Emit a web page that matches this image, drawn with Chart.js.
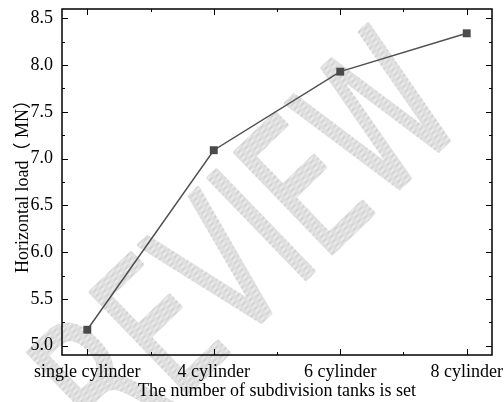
<!DOCTYPE html>
<html>
<head>
<meta charset="utf-8">
<script src="https://cdn.jsdelivr.net/npm/chart.js@4"></script>
<style>
  html, body { margin: 0; padding: 0; background: #fff; }
</style>
</head>
<body>
<canvas id="chart" width="504" height="402"></canvas>
<script>
// Horizontal load for each tank subdivision setup
const tankLabels = ["single cylinder", "4 cylinder", "6 cylinder", "8 cylinder"];
const horizontalLoad = [5.17, 7.09, 7.93, 8.34];
const yTickValues = [5.0, 5.5, 6.0, 6.5, 7.0, 7.5, 8.0, 8.5];

const serif = "'Liberation Serif', 'Times New Roman', 'Noto Sans CJK SC', serif";

// grey stamp behind the plot
const watermark = {
    id: "watermark",
    beforeDraw(chart) {
        let ctx = chart.ctx;
        let tile = document.createElement("canvas");
        tile.width = 2;
        tile.height = 2;
        let t = tile.getContext("2d");
        t.fillStyle = "#f2f2f2";
        t.fillRect(0, 0, 2, 2);
        t.fillStyle = "#cccccc";
        t.fillRect(0, 0, 1, 1);
        t.fillRect(1, 1, 1, 1);
        let pat = ctx.createPattern(tile, "repeat");

        ctx.save();
        ctx.translate(116, 462);
        ctx.rotate(-44 * Math.PI / 180);
        ctx.scale(0.65, 1);
        ctx.font = "192px 'DejaVu Sans'";
        ctx.textAlign = "left";
        ctx.textBaseline = "alphabetic";
        ctx.fillStyle = pat;
        ctx.strokeStyle = pat;
        ctx.lineWidth = 4;
        ctx.lineJoin = "round";
        ctx.fillText("REVIEW", 0, 0);
        ctx.strokeText("REVIEW", 0, 0);
        ctx.restore();
    }
};

// box frame with inward major/minor ticks on all four sides
const frameTicks = {
    id: "frameTicks",
    afterDatasetsDraw(chart) {
        let ctx = chart.ctx;
        let area = chart.chartArea;
        let xs = chart.scales.x;
        let ys = chart.scales.y;

        ctx.save();
        ctx.strokeStyle = "#000";
        ctx.lineWidth = 1.5;
        ctx.strokeRect(area.left, area.top, area.right - area.left, area.bottom - area.top);

        ctx.lineWidth = 1;
        ctx.beginPath();
        for (let i = 0; i < tankLabels.length; i++) {
            let px = Math.round(xs.getPixelForValue(i)) + 0.5;
            ctx.moveTo(px, area.bottom); ctx.lineTo(px, area.bottom - 6);
            ctx.moveTo(px, area.top); ctx.lineTo(px, area.top + 6);
            if (i < tankLabels.length - 1) {
                let mx = Math.round(xs.getPixelForValue(i + 0.5)) + 0.5;
                ctx.moveTo(mx, area.bottom); ctx.lineTo(mx, area.bottom - 3);
                ctx.moveTo(mx, area.top); ctx.lineTo(mx, area.top + 3);
            }
        }
        for (let i = 0; i < yTickValues.length; i++) {
            let py = Math.round(ys.getPixelForValue(yTickValues[i])) + 0.5;
            ctx.moveTo(area.left, py); ctx.lineTo(area.left + 6, py);
            ctx.moveTo(area.right, py); ctx.lineTo(area.right - 6, py);
            if (i < yTickValues.length - 1) {
                let my = Math.round(ys.getPixelForValue((yTickValues[i] + yTickValues[i + 1]) / 2)) + 0.5;
                ctx.moveTo(area.left, my); ctx.lineTo(area.left + 3, my);
                ctx.moveTo(area.right, my); ctx.lineTo(area.right - 3, my);
            }
        }
        ctx.stroke();
        ctx.restore();
    }
};

let ctx = document.getElementById("chart").getContext("2d");

new Chart(ctx, {
    type: "line",
    data: {
        datasets: [{
            data: horizontalLoad.map((v, i) => ({ x: i, y: v })),
            borderColor: "#505050",
            borderWidth: 1.5,
            pointStyle: "rect",
            pointRadius: 5.6,
            pointBorderWidth: 0,
            pointBackgroundColor: "#4a4a4a",
            fill: false,
            tension: 0
        }]
    },
    options: {
        responsive: false,
        animation: false,
        layout: { padding: { top: 9, right: 12, left: 0, bottom: 0 } },
        plugins: {
            legend: { display: false },
            tooltip: { enabled: false }
        },
        scales: {
            x: {
                type: "linear",
                min: -0.2,
                max: 3.2,
                grid: { display: false, drawTicks: false },
                border: { display: false },
                afterBuildTicks: s => { s.ticks = tankLabels.map((_, i) => ({ value: i })); },
                afterFit: s => {
                    s.height = 47;
                    s.paddingLeft = 0;
                    s.paddingRight = 0;
                },
                ticks: {
                    callback: v => tankLabels[v] ?? "",
                    font: { family: serif, size: 18 },
                    color: "#000",
                    padding: 6,
                    maxRotation: 0,
                    autoSkip: false
                },
                title: {
                    display: true,
                    text: "The number of subdivision tanks is set",
                    font: { family: serif, size: 18 },
                    color: "#000",
                    padding: { top: 0, bottom: 0 }
                }
            },
            y: {
                min: 4.9,
                max: 8.6,
                grid: { display: false, drawTicks: false },
                border: { display: false },
                afterBuildTicks: s => { s.ticks = yTickValues.map(v => ({ value: v })); },
                afterFit: s => {
                    s.width = 62;
                    s.paddingTop = 0;
                    s.paddingBottom = 0;
                },
                ticks: {
                    callback: v => v.toFixed(1),
                    font: { family: serif, size: 18 },
                    color: "#000",
                    padding: 9
                },
                title: {
                    display: true,
                    text: "Horizontal load（ MN）",
                    font: { family: serif, size: 18 },
                    color: "#000",
                    padding: { top: 12, bottom: 0 }
                }
            }
        }
    },
    plugins: [watermark, frameTicks]
});
</script>
</body>
</html>
